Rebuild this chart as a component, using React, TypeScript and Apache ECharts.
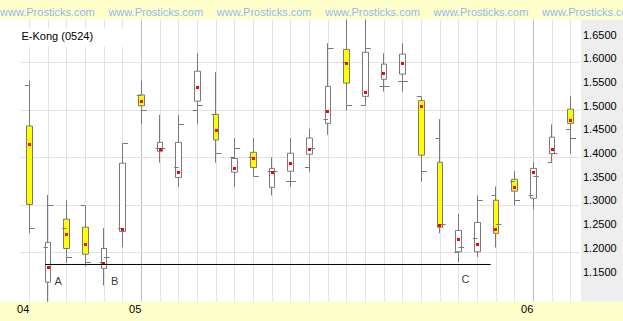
import React, { useEffect, useRef } from 'react';
import * as echarts from 'echarts';

// Month tick labels per session (first session of each month)
const monthTicks = ['04', '', '', '', '', '', '05', '', '', '', '', '', '', '', '', '', '', '', '', '', '', '', '', '', '', '', '', '06', '', ''];
const sessions = monthTicks.map((_, i) => `S${i + 1}`);

const highs = [1.562, 1.321, 1.310, 1.298, 1.251, 1.430, 1.562, 1.490, 1.490, 1.620, 1.580, 1.441, 1.441, 1.400, 1.441, 1.460, 1.641, 1.695, 1.695, 1.620, 1.641, 1.529, 1.481, 1.281, 1.320, 1.339, 1.372, 1.390, 1.470, 1.530];
const lows = [1.240, 1.090, 1.178, 1.170, 1.130, 1.211, 1.470, 1.389, 1.338, 1.470, 1.389, 1.338, 1.360, 1.320, 1.338, 1.370, 1.448, 1.499, 1.510, 1.539, 1.539, 1.349, 1.240, 1.179, 1.190, 1.210, 1.299, 1.291, 1.390, 1.408];
const bodyTops = [1.4665, 1.221, 1.270, 1.253, 1.208, 1.388, 1.532, 1.432, 1.432, 1.582, 1.491, 1.398, 1.411, 1.377, 1.409, 1.441, 1.550, 1.628, 1.622, 1.597, 1.618, 1.520, 1.390, 1.246, 1.263, 1.310, 1.354, 1.377, 1.443, 1.502];
const bodyBottoms = [1.301, 1.137, 1.208, 1.196, 1.166, 1.244, 1.509, 1.413, 1.358, 1.519, 1.437, 1.369, 1.379, 1.337, 1.371, 1.407, 1.472, 1.557, 1.529, 1.565, 1.576, 1.405, 1.253, 1.201, 1.201, 1.240, 1.329, 1.314, 1.408, 1.472];
// true = hollow (white) body, false = yellow body
const hollow = [false, true, false, false, true, true, false, true, true, true, false, true, false, true, true, true, true, false, true, true, true, false, false, true, true, false, false, true, true, false];
const opens = [1.551, 1.211, 1.251, 1.298, 1.179, 1.251, 1.530, 1.419, 1.379, 1.500, 1.490, 1.400, 1.400, 1.371, 1.350, 1.379, 1.481, 1.601, 1.510, 1.550, 1.561, 1.529, 1.441, 1.200, 1.230, 1.320, 1.350, 1.320, 1.390, 1.460];
const closes = [1.251, 1.298, 1.190, 1.179, 1.190, 1.430, 1.499, 1.419, 1.470, 1.509, 1.409, 1.419, 1.360, 1.371, 1.350, 1.419, 1.630, 1.509, 1.630, 1.550, 1.561, 1.371, 1.259, 1.211, 1.310, 1.259, 1.310, 1.360, 1.408, 1.441];
const marks = [1.428, 1.168, 1.238, 1.217, 1.177, 1.249, 1.519, 1.417, 1.369, 1.548, 1.457, 1.377, 1.398, 1.369, 1.388, 1.417, 1.498, 1.599, 1.538, 1.578, 1.599, 1.508, 1.257, 1.227, 1.217, 1.249, 1.337, 1.369, 1.417, 1.479];

// Support line (session position, price)
const supportLine = [[0.84, 1.1743], [24.72, 1.1743]];
const annotations = [
  { name: 'A', value: [1.55, 1.140] },
  { name: 'B', value: [4.57, 1.1384] },
  { name: 'C', value: [23.36, 1.1437] },
];

const title = 'E-Kong (0524)';
const watermark = 'www.Prosticks.com';
const watermarkCount = 6;

const FONT = '"Liberation Sans", Arial, sans-serif';

export default function App() {
  const ref = useRef<HTMLDivElement>(null);

  useEffect(() => {
    if (!ref.current) return;
    const chart = echarts.init(ref.current, undefined, { renderer: 'svg' });

    const candleData = highs.map((h, i) =>
      hollow[i]
        ? [bodyBottoms[i], bodyTops[i], lows[i], h]
        : [bodyTops[i], bodyBottoms[i], lows[i], h]
    );
    const tickData = opens.map((o, i) => [i, o, closes[i], marks[i]]);

    const vLineColors = monthTicks.map((t, i) => (t && i > 0 ? '#c0c0c0' : '#e3e3e3'));
    const T = 'rgba(0,0,0,0)';
    const G = '#e3e3e3';
    const hLineColors = [T, T, T, G, T, G, T, G, T, G, T, G, T, T];

    const gridLeft = 20;
    const gridWidth = 560;
    const gridTop = 15.3;
    const gridHeight = 308.1;

    const graphics: any[] = [
      { type: 'rect', z: 0, silent: true, shape: { x: 581, y: 19.5, width: 42, height: 282.2 }, style: { fill: '#eeeeee' } },
      { type: 'rect', z: 10, silent: true, shape: { x: 0, y: 0, width: 623, height: 19.5 }, style: { fill: '#ffffcc' } },
      { type: 'rect', z: 10, silent: true, shape: { x: 0, y: 301.7, width: 623, height: 19.3 }, style: { fill: '#ffffcc' } },
      { type: 'rect', z: 1, silent: true, shape: { x: 20, y: 28.5, width: 113, height: 18 }, style: { fill: '#ffffff' } },
      { type: 'text', z: 12, silent: true, x: 21.5, y: 36, style: { text: title, fill: '#000000', font: `11px ${FONT}`, verticalAlign: 'middle', align: 'left' } },
    ];
    for (let k = 0; k < watermarkCount; k++) {
      graphics.push({
        type: 'text', z: 12, silent: true, x: k * 108.4, y: 12.3,
        style: { text: watermark, fill: '#8fb9f2', font: `11px ${FONT}`, verticalAlign: 'middle', align: 'left' },
      });
    }

    const snap = (v: number) => Math.round(v - 0.5) + 0.5;

    chart.setOption({
      animation: false,
      backgroundColor: '#ffffff',
      grid: { left: gridLeft, top: gridTop, width: gridWidth, height: gridHeight, containLabel: false, outerBoundsMode: 'none' },
      xAxis: [
        {
          type: 'category', data: sessions, boundaryGap: true, z: 0, position: 'bottom',
          axisLine: { show: false }, axisTick: { show: false }, axisLabel: { show: false },
          splitLine: { show: true, interval: 0, alignWithLabel: true, lineStyle: { color: vLineColors, width: 1 } },
        },
        {
          type: 'category', data: sessions, boundaryGap: true, z: 11, position: 'bottom', offset: -21.7,
          axisLine: { show: false }, axisTick: { show: false }, splitLine: { show: false },
          axisLabel: {
            show: true, interval: 0, margin: 2, align: 'right', verticalAlign: 'top', lineHeight: 11,
            color: '#000000', fontSize: 11, fontFamily: FONT,
            formatter: (_v: string, i: number) => monthTicks[i],
          },
        },
        { type: 'value', min: -0.5, max: 29.5, show: false, position: 'bottom' },
      ],
      yAxis: [
        {
          type: 'value', position: 'right', min: 1.05, max: 1.7, interval: 0.05, z: 1,
          axisLine: { show: false }, axisTick: { show: false },
          axisLabel: {
            show: true, margin: 3, color: '#000000', fontSize: 11, fontFamily: FONT,
            verticalAlign: 'bottom', lineHeight: 9,
            formatter: (v: number) => (v > 1.14 && v < 1.66 ? v.toFixed(4) : ''),
          },
          splitLine: { show: true, lineStyle: { color: hLineColors, width: 1 } },
        },
      ],
      graphic: graphics,
      series: [
        {
          type: 'candlestick', xAxisIndex: 0, yAxisIndex: 0, z: 2, barWidth: 6, silent: true,
          data: candleData,
          itemStyle: { color: '#ffffff', color0: '#ffff00', borderColor: '#7a7a7a', borderColor0: '#7a7a7a', borderWidth: 1 },
        },
        {
          type: 'custom', xAxisIndex: 0, yAxisIndex: 0, z: 3, silent: true,
          data: tickData,
          encode: { x: 0, y: [1, 2, 3] },
          renderItem: (_params: any, api: any) => {
            const x = api.value(0);
            const o = api.coord([x, api.value(1)]);
            const c = api.coord([x, api.value(2)]);
            const m = api.coord([x, api.value(3)]);
            const stroke = '#7a7a7a';
            return {
              type: 'group',
              children: [
                { type: 'line', shape: { x1: o[0] - 4.5, y1: snap(o[1]), x2: o[0], y2: snap(o[1]) }, style: { stroke, lineWidth: 1 } },
                { type: 'line', shape: { x1: c[0], y1: snap(c[1]), x2: c[0] + 5.5, y2: snap(c[1]) }, style: { stroke, lineWidth: 1 } },
                { type: 'rect', shape: { x: Math.round(m[0] - 1.5), y: Math.round(m[1] - 1.5), width: 3, height: 3 }, style: { fill: '#ff0000' } },
              ],
            };
          },
        },
        {
          type: 'line', xAxisIndex: 2, yAxisIndex: 0, z: 4, silent: true,
          data: supportLine, symbol: 'none',
          lineStyle: { color: '#000000', width: 1 },
        },
        {
          type: 'scatter', xAxisIndex: 2, yAxisIndex: 0, z: 4, silent: true,
          data: annotations, symbolSize: 0,
          label: { show: true, position: 'inside', formatter: '{b}', color: '#000000', fontSize: 11, fontFamily: FONT },
        },
      ],
    });

    return () => chart.dispose();
  }, []);

  return <div ref={ref} style={{ position: 'fixed', left: 0, top: 0, width: 623, height: 321 }} />;
}
